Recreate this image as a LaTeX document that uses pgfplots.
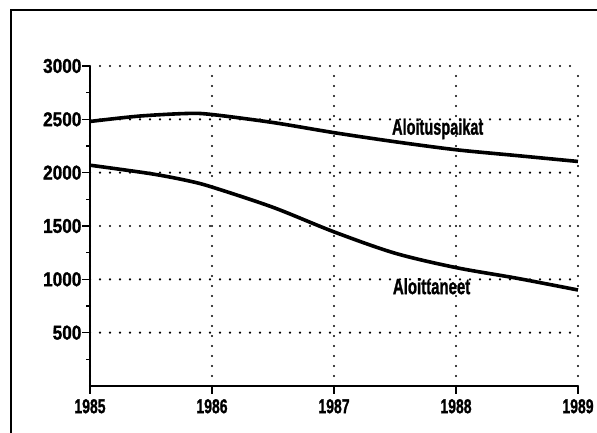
\documentclass[border=0pt]{standalone}
\usepackage{fontspec}
\setmainfont{Liberation Sans}[BoldFeatures={FakeBold=1.5}]
\usepackage{pgfplots}
\pgfplotsset{compat=1.18}
\begin{document}
\begin{tikzpicture}
\useasboundingbox (-90pt,-47pt) rectangle (507pt,386pt);
\begin{axis}[
  scale only axis, width=488pt, height=320pt,
  xmin=1985, xmax=1989, ymin=0, ymax=3000,
  axis x line=bottom, axis y line=left,
  axis line style={-, line width=2.2pt},
  xtick={1985,1986,1987,1988,1989},
  ytick={500,1000,1500,2000,2500,3000},
  minor ytick={250,750,1250,1750,2250,2750},
  tick align=outside, major tick length=8pt, minor tick length=4pt,
  tick style={line width=1.6pt, black},
  grid=major,
  major grid style={line width=2.4pt, dash pattern=on 0pt off 10pt, line cap=round, black},
  /pgf/number format/assume math mode=true,
  /pgf/number format/1000 sep={},
  ticklabel style={font=\bfseries\fontsize{20}{20}\selectfont},
  yticklabel style={inner sep=0.5pt, xscale=0.86},
  xticklabel style={inner sep=2pt, xscale=0.7, yshift=-3pt},
  clip=false,
]
\addplot[black, line width=3.6pt, smooth] coordinates {
(1985,2480) (1985.4,2530) (1985.8,2555) (1986,2545) (1986.5,2470) (1987,2375) (1987.5,2290) (1988,2215) (1988.5,2160) (1989,2105)};
\addplot[black, line width=3.6pt, smooth] coordinates {
(1985,2070) (1985.5,1990) (1985.8,1925) (1986,1865) (1986.5,1675) (1987,1445) (1987.5,1245) (1988,1110) (1988.5,1010) (1989,900)};
\node[font=\bfseries\fontsize{22}{22}\selectfont, xscale=0.66] at (axis cs:1987.85,2410) {Aloituspaikat};
\node[font=\bfseries\fontsize{22}{22}\selectfont, xscale=0.68] at (axis cs:1987.8,935) {Aloittaneet};
\end{axis}
\draw[line width=2pt] (-79pt,-60pt) -- (-79pt,376pt) -- (520pt,376pt);
\end{tikzpicture}
\end{document}
